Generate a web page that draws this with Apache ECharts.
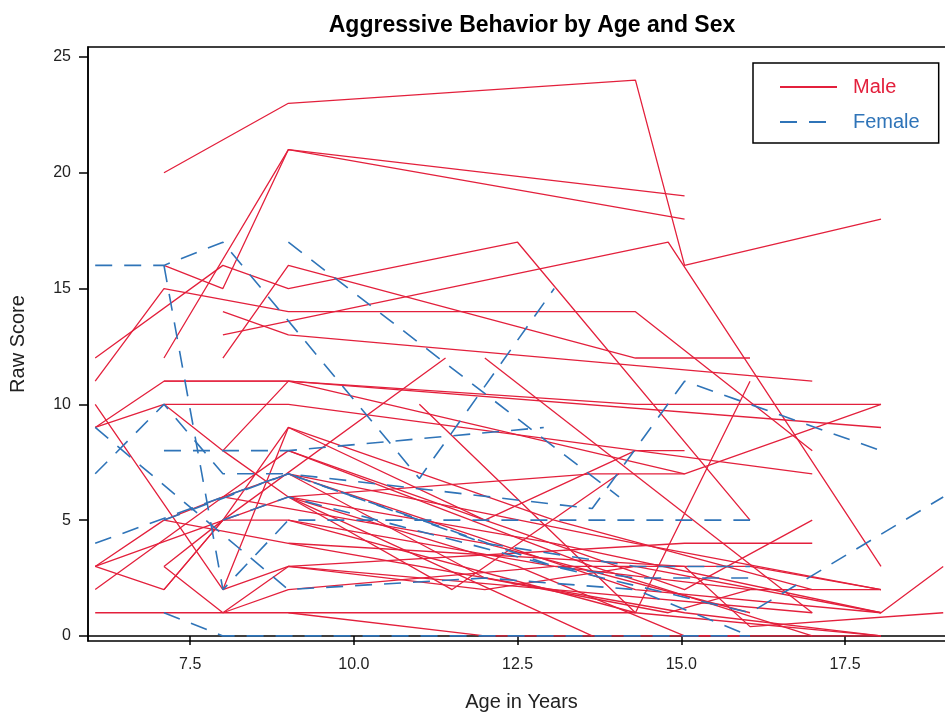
<!DOCTYPE html>
<html>
<head>
<meta charset="utf-8">
<script src="https://cdn.jsdelivr.net/npm/echarts@6/dist/echarts.min.js"></script>
<style>html,body{margin:0;padding:0;background:#fff}#c{width:945px;height:712px}</style>
</head>
<body>
<div id="c"></div>
<script>
// x tick labels and y tick labels
const xTicks = [7.5, 10.0, 12.5, 15.0, 17.5];
const yTicks = [0, 5, 10, 15, 20, 25];

// Each subject: [age, raw score] pairs
const maleLines = [
  [[7.1,20],[9.0,23],[14.3,24],[15.05,16],[18.05,18]],
  [[7.1,12],[9.0,21],[15.05,19]],
  [[7.1,16],[8.0,15],[9.0,21],[15.05,18]],
  [[6.05,12],[8.0,16],[9.0,15],[12.5,17],[16.05,5]],
  [[6.05,11],[7.1,15],[9.0,14],[14.3,14],[17.0,8]],
  [[8.0,13],[14.8,17],[18.05,3]],
  [[8.0,14],[9.0,13],[17.0,11]],
  [[8.0,12],[9.0,16],[14.3,12],[15.05,12],[16.05,12]],
  [[6.05,9],[7.1,11],[9.0,11],[14.3,10],[18.05,10]],
  [[7.1,10],[9.0,10],[17.0,7]],
  [[8.0,8],[9.0,11],[18.05,9]],
  [[7.1,11],[9.0,11],[15.05,7],[18.05,10]],
  [[6.05,10],[8.0,2],[9.0,3],[13.06,2],[17.0,1]],
  [[6.05,9],[7.1,10],[8.0,8],[9.0,6],[13.64,0]],
  [[6.05,3],[7.1,5],[8.0,6],[9.0,8],[12.0,5],[14.3,8],[15.05,8]],
  [[6.05,3],[7.1,2],[8.0,5],[9.0,5],[14.3,1]],
  [[6.05,2],[8.0,6],[9.0,7],[14.3,2],[18.05,1]],
  [[6.05,1],[7.1,1],[9.0,1],[12.0,0],[16.05,0]],
  [[7.1,3],[8.0,5],[9.0,9],[13.06,5],[17.0,2]],
  [[7.1,3],[8.0,1],[9.0,3],[15.05,4],[17.0,4]],
  [[7.1,2],[8.0,5],[11.4,12]],
  [[8.0,2],[9.0,9],[12.0,5],[15.05,2],[17.0,5]],
  [[8.0,1],[9.0,2],[13.06,3],[16.05,3],[18.05,2]],
  [[9.0,6],[13.64,7],[15.05,7]],
  [[9.0,5],[13.06,3],[16.05,2],[18.05,2]],
  [[9.0,1],[14.3,1],[18.05,0]],
  [[9.0,3],[12.0,2],[14.3,3],[18.05,1],[19.0,3]],
  [[9.0,6],[11.5,2],[14.05,7]],
  [[11.0,10],[14.3,1],[16.05,11]],
  [[9.0,4],[15.05,3],[16.05,0.4],[19.0,1]],
  [[6.05,3],[9.0,6],[12.5,3],[15.05,0],[18.05,0]],
  [[9.0,7],[12.0,2.5],[14.8,1],[16.05,2]],
  [[9.0,6],[13.06,4],[18.05,1]],
  [[12.0,12],[17.0,1]],
  [[8.0,6],[12.0,4],[16.05,1]],
  [[9.0,8],[13.64,3],[17.0,0]],
  [[9.0,7],[14.3,4],[18.05,2]],
  [[7.1,5],[9.0,4],[15.05,1],[18.05,0]]
];

const femaleLines = [
  [[6.05,16],[7.1,16],[8.0,17],[11.0,6.8],[13.06,15]],
  [[7.1,16],[8.0,2],[9.0,5],[16.05,5]],
  [[6.05,9],[9.0,2],[12.0,2.5],[14.3,2],[16.05,0]],
  [[6.05,7],[7.1,10],[8.0,7],[9.0,7],[12.0,4],[14.3,3],[16.05,3]],
  [[6.05,4],[8.0,6],[9.0,7],[13.06,3],[16.05,1],[19.0,6]],
  [[9.0,17],[14.05,6]],
  [[7.1,8],[9.0,8],[12.9,9]],
  [[7.1,5],[9.0,7],[13.64,5.5],[15.05,11],[18.05,8]],
  [[7.1,1],[8.0,0],[16.05,0]],
  [[8.0,5],[9.0,6],[13.06,3],[14.3,2.5],[16.05,2.5]]
];

const MALE = '#E3203C';
const FEMALE = '#2F74B8';
const FONT = '"Liberation Sans", Arial, sans-serif';

const series = [];
maleLines.forEach(d => series.push({
  name: 'Male', type: 'line', data: d, symbol: 'none', silent: true,
  lineStyle: { color: MALE, width: 1.3, type: 'solid' }, itemStyle: { color: MALE }, z: 2
}));
femaleLines.forEach(d => series.push({
  name: 'Female', type: 'line', data: d, symbol: 'none', silent: true,
  lineStyle: { color: FEMALE, width: 1.6, type: [17, 12] }, itemStyle: { color: FEMALE }, z: 3
}));

const chart = echarts.init(document.getElementById('c'), null, { renderer: 'canvas' });
chart.setOption({
  animation: false,
  backgroundColor: '#fff',
  title: {
    text: 'Aggressive Behavior by Age and Sex', left: 527, top: 9, textAlign: 'center',
    textStyle: { fontFamily: FONT, fontSize: 23, fontWeight: 'bold', color: '#000' }
  },
  legend: {
    orient: 'vertical', left: 753, top: 63,
    data: [
      { name: 'Male', textStyle: { color: MALE } },
      { name: 'Female', textStyle: { color: FEMALE } }
    ],
    itemWidth: 57, itemHeight: 20, itemGap: 15,
    padding: [14, 19, 11, 26],
    borderColor: '#000', borderWidth: 1.5,
    itemStyle: { color: 'rgba(0,0,0,0)', borderWidth: 0, opacity: 0 },
    textStyle: { fontFamily: FONT, fontSize: 20, lineHeight: 20, padding: [0, 0, 0, 11] },
    selectedMode: false
  },
  grid: { left: 88, top: 47, right: -10, bottom: 71, show: true, borderColor: '#000', borderWidth: 1.5, containLabel: false, outerBoundsMode: 'none' },
  xAxis: {
    type: 'value', min: 5.94, max: 19.18,
    name: 'Age in Years', nameLocation: 'middle', nameGap: 51,
    nameTextStyle: { fontFamily: FONT, fontSize: 20, color: '#222' },
    axisLine: { show: true, lineStyle: { color: '#000', width: 1.5 } },
    axisTick: { show: true, length: 9, lineStyle: { color: '#000', width: 1.5 }, customValues: xTicks },
    axisLabel: { color: '#222', fontFamily: FONT, fontSize: 16, margin: 16, customValues: xTicks, formatter: v => v.toFixed(1) },
    splitLine: { show: false }
  },
  yAxis: {
    type: 'value', min: -0.22, max: 25.43,
    name: 'Raw Score', nameLocation: 'middle', nameGap: 60, nameRotate: 90,
    nameTextStyle: { fontFamily: FONT, fontSize: 20, color: '#222' },
    axisLine: { show: true, lineStyle: { color: '#000', width: 1.5 } },
    axisTick: { show: true, length: 9, lineStyle: { color: '#000', width: 1.5 }, customValues: yTicks },
    axisLabel: { color: '#222', fontFamily: FONT, fontSize: 16, margin: 17, customValues: yTicks },
    splitLine: { show: false }
  },
  series: series
});
</script>
</body>
</html>
